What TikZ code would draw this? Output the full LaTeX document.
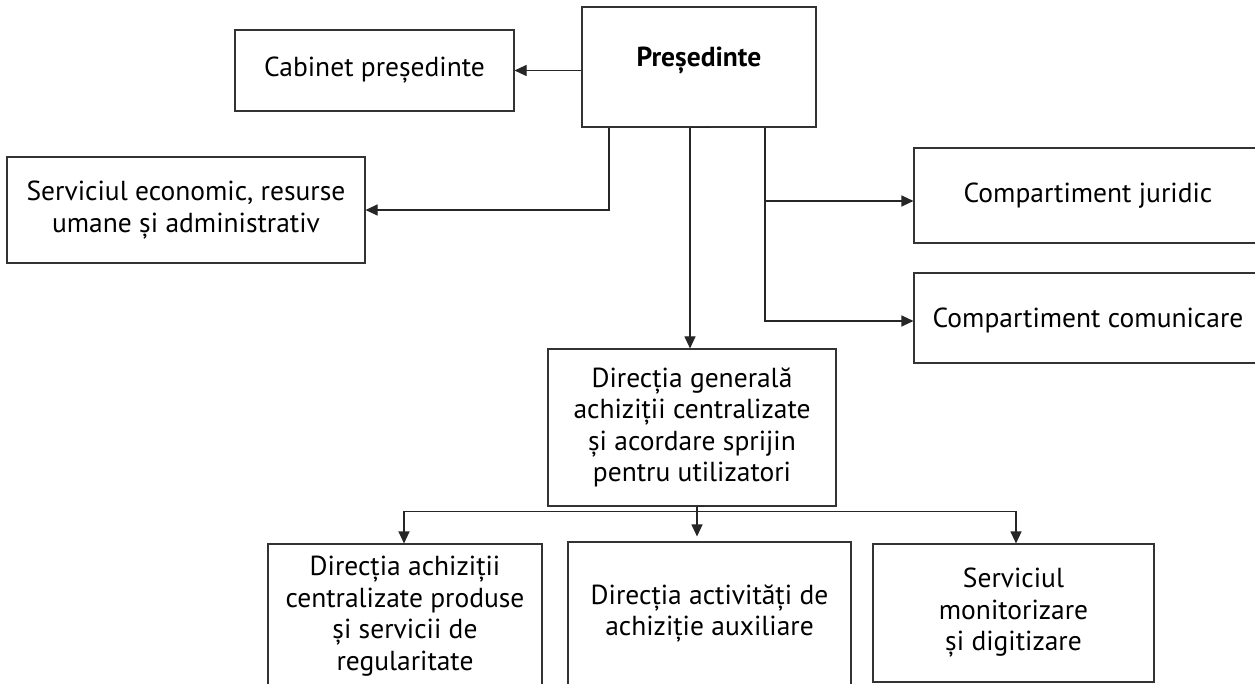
\documentclass[tikz,border=0pt]{standalone}
\usepackage{fontspec}
\setmainfont{PT Sans}
\usetikzlibrary{arrows.meta}
\begin{document}
\begin{tikzpicture}[x=1pt,y=-1pt,
  box/.style={draw=black!80, line width=1.1pt, inner sep=0pt, rectangle},
  lbl/.style={font=\fontsize{27.5}{31.5}\selectfont, align=center, inner sep=0pt},
  ln/.style={draw=black!85, line width=1.1pt},
  arr/.style={ln, -{Triangle[length=12pt,width=11pt]}}]
\clip (0,0) rectangle (1255,684);
\fill[white] (0,0) rectangle (1255,684);
% boxes
\node[box, minimum width=234, minimum height=120,
  label={[lbl, yshift=7]center:{\bfseries Președinte}}] (pres) at (699,67) {};
\node[box, minimum width=279, minimum height=81,
  label={[lbl]center:Cabinet președinte}] (cab) at (374.5,70.5) {};
\node[box, minimum width=358, minimum height=106,
  label={[lbl]center:Serviciul economic, resurse\\umane și administrativ}] (serv) at (186,210) {};
\node[box, minimum width=351, minimum height=95,
  label={[lbl, xshift=-1.5]center:Compartiment juridic}] (jur) at (1089.5,195.5) {};
\node[box, minimum width=351, minimum height=90,
  label={[lbl, xshift=-1.5, yshift=-2]center:Compartiment comunicare}] (com) at (1089.5,318) {};
\node[box, minimum width=288, minimum height=157,
  label={[lbl]center:Direcția generală\\achiziții centralizate\\și acordare sprijin\\pentru utilizatori}] (dg) at (692,427.5) {};
\node[box, minimum width=274, minimum height=156,
  label={[lbl, yshift=6]center:Direcția achiziții\\centralizate produse\\și servicii de\\regularitate}] (d1) at (405,622) {};
\node[box, minimum width=283, minimum height=158,
  label={[lbl, yshift=7.5]center:Direcția activități de\\achiziție auxiliare}] (d2) at (709.5,621) {};
\node[box, minimum width=281, minimum height=138,
  label={[lbl]center:Serviciul\\monitorizare\\și digitizare}] (d3) at (1013.5,613) {};
% connectors
\draw[arr] (pres.west |- cab.east) -- (cab.east);
\draw[arr] ([xshift=-90]pres.south) |- (serv.east);
\draw[ln] ([xshift=12]pres.south) -- ([xshift=-9]pres.south);
\draw[arr] ([xshift=-9]pres.south) -- ([xshift=-9]pres.south |- dg.north);
\draw[arr] ([xshift=66]pres.south) |- ([yshift=-5.5]jur.west);
\draw[arr] ([xshift=66]pres.south) |- ([yshift=-3]com.west);
\draw[ln] ([xshift=12]dg.south) -- ([xshift=5]dg.south);
\draw[arr] ([xshift=5]dg.south) -- ([xshift=-12.5,yshift=5]d2.north);
\coordinate (bus) at ([xshift=5,yshift=-5]dg.south);
\draw[arr] (bus) -| ([xshift=-1]d1.north);
\draw[arr] (bus) -| ([xshift=2.5]d3.north);
\end{tikzpicture}
\end{document}
